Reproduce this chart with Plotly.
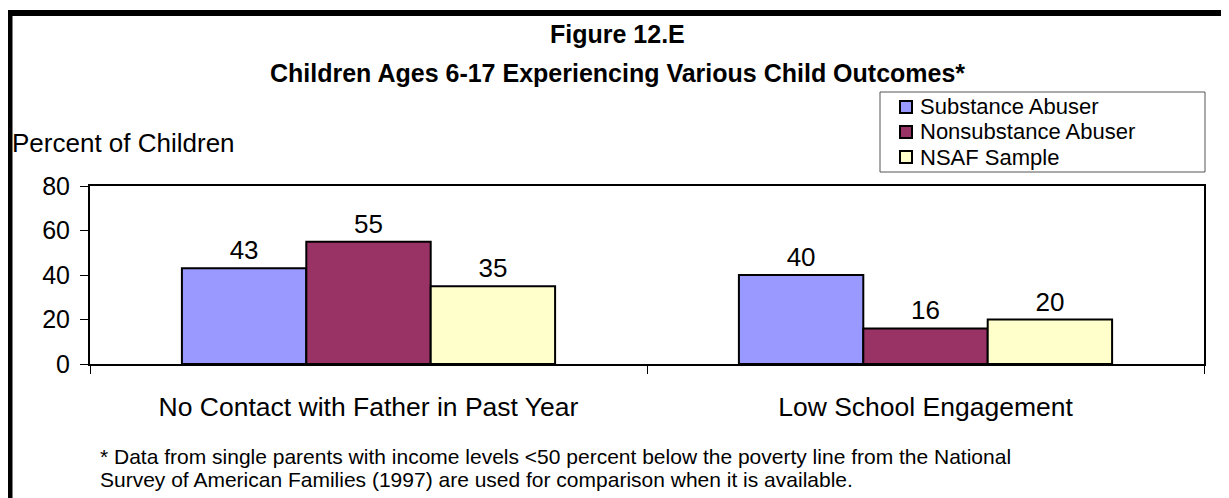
"""
Figure 12.E - children ages 6-17 experiencing various child outcomes
"""
import plotly.graph_objects as go

# data
categories = ['No Contact with Father in Past Year', 'Low School Engagement']
substance_abuser = [43, 40]
nonsubstance_abuser = [55, 16]
nsaf_sample = [35, 20]

series = [
    ('Substance Abuser', substance_abuser, '#9999FF'),
    ('Nonsubstance Abuser', nonsubstance_abuser, '#993366'),
    ('NSAF Sample', nsaf_sample, '#FFFFCC'),
]

footnote = [
    '* Data from single parents with income levels <50 percent below the poverty line from the National',
    'Survey of American Families (1997) are used for comparison when it is available.',
]

FONT = 'Arial, Liberation Sans, sans-serif'

# the page puts the plot 8px in from the top-left corner, so the figure is
# 8px smaller than the window; positions below are in window pixels
W, H = 1221, 490
L, R, T, B = 82, 25, 178, 134
PW, PH = W - L - R, H - T - B
X0, Y0 = 90, 364  # window pixels of the plot area's left edge / zero line


def px(x):
    return (x - X0) / PW


def py(y):
    return (Y0 - y) / PH


fig = go.Figure()

for name, values, color in series:
    fig.add_trace(go.Bar(
        x=categories,
        y=values,
        name=name,
        marker=dict(color=color, line=dict(color='black', width=2)),
        text=[str(v) for v in values],
        textposition='outside',
        textfont=dict(family=FONT, size=26, color='black'),
        cliponaxis=False,
    ))

fig.update_layout(
    width=W,
    height=H,
    margin=dict(l=L, r=R, t=T, b=B),
    paper_bgcolor='white',
    plot_bgcolor='white',
    barmode='group',
    bargap=0.33,
    bargroupgap=0,
    font=dict(family=FONT, size=24, color='black'),
    showlegend=False,
)

fig.update_xaxes(
    showline=True, linecolor='black', linewidth=2, mirror=True,
    ticks='outside', tickson='boundaries', ticklen=8, tickcolor='black',
    tickwidth=1, ticklabelstandoff=18,
    tickfont=dict(family=FONT, size=26.5, color='black'),
    showgrid=False,
)
fig.update_yaxes(
    range=[0, 80], dtick=20,
    showline=True, linecolor='black', linewidth=2, mirror=True,
    ticks='outside', ticklen=8, tickcolor='black', tickwidth=1,
    ticklabelstandoff=5,
    tickfont=dict(family=FONT, size=25, color='black'),
    showgrid=False, zeroline=False,
)

# titles and axis label
fig.add_annotation(
    text='<b>Figure 12.E</b>', x=px(617), y=py(34), xref='paper', yref='paper',
    xanchor='center', yanchor='middle',
    showarrow=False, font=dict(family=FONT, size=25, color='black'),
)
fig.add_annotation(
    text='<b>Children Ages 6-17 Experiencing Various Child Outcomes*</b>',
    x=px(617), y=py(73), xref='paper', yref='paper',
    xanchor='center', yanchor='middle',
    showarrow=False, font=dict(family=FONT, size=25, color='black'),
)
fig.add_annotation(
    text='Percent of Children', x=px(10), y=py(143), xref='paper', yref='paper',
    xanchor='left', yanchor='middle',
    showarrow=False, font=dict(family=FONT, size=26, color='black'),
)

# footnote, one line at a time to keep the tight line spacing
for i, line in enumerate(footnote):
    fig.add_annotation(
        text=line, x=px(98), y=py(456 + 23 * i), xref='paper', yref='paper',
        xanchor='left', yanchor='middle', align='left',
        showarrow=False, font=dict(family=FONT, size=21, color='black'),
    )

# legend box drawn by hand: Excel packs the rows much tighter than plotly can
fig.add_shape(
    type='rect', xref='paper', yref='paper',
    x0=px(880), y0=py(172), x1=px(1205), y1=py(92),
    line=dict(color='#555555', width=1), fillcolor='white',
)
for i, (name, values, color) in enumerate(series):
    yc = 107 + 25 * i
    fig.add_shape(
        type='rect', xref='paper', yref='paper',
        x0=px(900), y0=py(yc + 6), x1=px(912), y1=py(yc - 6),
        line=dict(color='black', width=2), fillcolor=color,
    )
    fig.add_annotation(
        text=name, x=px(918), y=py(yc), xref='paper', yref='paper',
        xanchor='left', yanchor='middle',
        showarrow=False, font=dict(family=FONT, size=22, color='black'),
    )

# thick outer frame (only its top and left edges fall inside the picture)
fig.add_shape(
    type='rect', xref='paper', yref='paper',
    x0=px(9.5), y0=py(560), x1=px(1300), y1=py(13),
    line=dict(color='black', width=6), layer='above',
)

fig.write_html("out.html")
